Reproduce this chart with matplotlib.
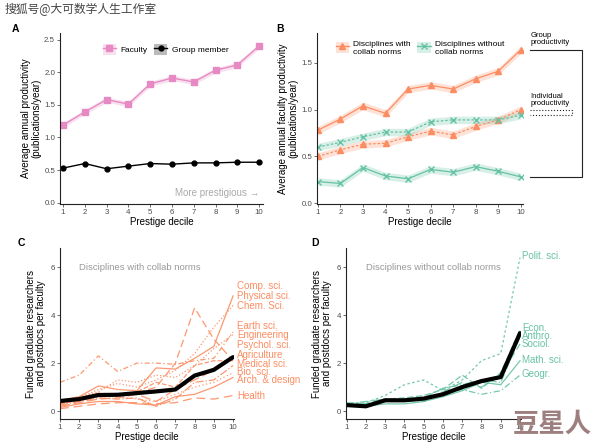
import matplotlib
matplotlib.use("Agg")
import matplotlib.pyplot as plt
from matplotlib.lines import Line2D
from matplotlib.patches import Patch
import numpy as np

plt.rcParams['font.family'] = ['Liberation Sans', 'DejaVu Sans']

deciles = list(range(1, 11))

# panel A
faculty = [1.19, 1.39, 1.58, 1.51, 1.82, 1.91, 1.85, 2.03, 2.11, 2.40]
group_member = [0.53, 0.60, 0.52, 0.56, 0.60, 0.59, 0.61, 0.61, 0.62, 0.62]

# panel B
collab_group = [0.78, 0.90, 1.04, 0.96, 1.22, 1.26, 1.22, 1.33, 1.41, 1.64]
collab_indiv = [0.50, 0.57, 0.63, 0.64, 0.71, 0.77, 0.73, 0.82, 0.89, 1.00]
nocollab_indiv = [0.60, 0.65, 0.71, 0.76, 0.76, 0.87, 0.89, 0.89, 0.89, 0.94]
nocollab_group = [0.23, 0.21, 0.38, 0.29, 0.26, 0.36, 0.33, 0.39, 0.34, 0.28]

# panel C (disciplines with collab norms)
comp_sci = [0.45, 0.60, 1.05, 0.90, 0.85, 1.80, 1.75, 2.20, 2.70, 4.80]
phys_sci = [0.30, 0.55, 0.90, 1.15, 1.00, 1.30, 1.70, 2.40, 3.50, 4.40]
chem_sci = [0.35, 0.50, 0.75, 0.70, 0.75, 1.00, 2.00, 4.30, 3.00, 2.10]
earth_sci = [1.20, 1.50, 2.30, 1.65, 2.00, 2.00, 1.95, 2.10, 2.20, 3.30]
engineering = [0.40, 0.60, 0.80, 1.30, 1.20, 1.50, 1.40, 1.90, 2.60, 3.20]
psychol_sci = [0.20, 0.35, 0.50, 0.55, 0.70, 0.40, 0.90, 1.30, 1.70, 2.20]
agriculture = [0.30, 0.45, 0.70, 0.65, 0.80, 1.20, 1.00, 1.90, 2.10, 2.10]
medical_sci = [0.25, 0.40, 0.55, 0.50, 0.55, 0.20, 0.50, 1.20, 1.30, 1.90]
bio_sci = [0.30, 0.45, 0.60, 0.60, 0.50, 0.40, 0.70, 1.00, 1.20, 1.60]
arch_design = [0.15, 0.30, 0.40, 0.40, 0.30, 0.25, 0.60, 0.70, 1.00, 1.40]
health = [0.10, 0.20, 0.30, 0.35, 0.35, 0.30, 0.35, 0.55, 0.50, 0.65]
collab_mean = [0.42, 0.50, 0.67, 0.68, 0.75, 0.82, 0.90, 1.48, 1.72, 2.25]

# panel D (disciplines without collab norms)
polit_sci = [0.30, 0.35, 0.65, 1.10, 1.30, 0.85, 1.30, 2.10, 2.40, 6.40]
econ = [0.35, 0.30, 0.50, 0.55, 0.65, 0.90, 1.50, 0.95, 1.60, 3.40]
anthro = [0.30, 0.40, 0.50, 0.50, 0.55, 0.95, 1.10, 1.30, 1.20, 3.10]
sociol = [0.20, 0.30, 0.45, 0.40, 0.50, 0.80, 1.20, 1.00, 1.50, 2.80]
math_sci = [0.20, 0.20, 0.30, 0.30, 0.40, 0.60, 0.85, 1.20, 1.10, 2.10]
geogr = [0.25, 0.30, 0.40, 0.45, 0.40, 0.70, 0.90, 0.70, 0.85, 1.50]
nocollab_mean = [0.25, 0.20, 0.45, 0.45, 0.52, 0.70, 1.00, 1.25, 1.42, 3.25]

PINK = "#e78ac3"
ORANGE = "#fc8d62"
GREEN = "#66c2a5"
TICKC = "#4d4d4d"

fig = plt.figure(figsize=(5.94, 4.42), dpi=100)
W, H = 594, 442


def make_ax(l, t, r, b):
    return fig.add_axes([l / W, 1 - b / H, (r - l) / W, (b - t) / H])


def style(ax):
    for s in ["top", "right"]:
        ax.spines[s].set_visible(False)
    for s in ["left", "bottom"]:
        ax.spines[s].set_linewidth(0.8)
        ax.spines[s].set_color("#222222")
    ax.tick_params(labelsize=5.7, labelcolor=TICKC, length=2, width=0.5,
                   color="#333333", pad=1.5)
    ax.set_xticks(deciles)
    ax.set_xlabel("Prestige decile", fontsize=7, labelpad=1)


x = np.array(deciles)

# ---------- A ----------
axA = make_ax(60, 33, 263, 204)
style(axA)
f = np.array(faculty)
axA.fill_between(x, f - 0.04, f + 0.04, color=PINK, alpha=0.25, lw=0)
axA.plot(x, faculty, color=PINK, marker="s", ms=4, lw=1)
axA.plot(x, group_member, color="black", marker="o", ms=3.5, lw=1)
axA.set_xlim(0.86, 10.18)
axA.set_ylim(-0.02, 2.6)
axA.set_yticks([0, 0.5, 1.0, 1.5, 2.0, 2.5])
axA.set_yticklabels(["0.0", "0.5", "1.0", "1.5", "2.0", "2.5"])
axA.set_ylabel("Average annual productivity\n(publications/year)", fontsize=7,
               labelpad=2, linespacing=1.0)
axA.text(10, 0.07, "More prestigious \u2192", color="#aaaaaa", fontsize=7,
         ha="right", va="bottom")
hA = [(Patch(color=PINK, alpha=0.25, lw=0), Line2D([], [], color=PINK, marker="s", ms=4, lw=1)),
      (Patch(color="#bbbbbb", lw=0), Line2D([], [], color="black", marker="o", ms=3.5, lw=1))]
axA.legend(hA, ["Faculty", "Group member"], loc="upper center",
           bbox_to_anchor=(0.52, 0.98), ncol=2, frameon=False, fontsize=6,
           handlelength=1.6, handleheight=1.6, columnspacing=0.8, handletextpad=0.5)
fig.text(12 / W, 1 - 29 / H, "A", fontsize=7.5, fontweight="bold", va="center")

# ---------- B ----------
axB = make_ax(317, 33, 523, 204)
style(axB)
for vals, col, mk, ls in [(collab_group, ORANGE, "^", "-"),
                          (collab_indiv, ORANGE, "^", "--"),
                          (nocollab_indiv, GREEN, "x", "--"),
                          (nocollab_group, GREEN, "x", "-")]:
    v = np.array(vals)
    axB.fill_between(x, v - 0.04, v + 0.04, color=col, alpha=0.25, lw=0)
    axB.plot(x, vals, color=col, marker=mk, ms=4, lw=0.9, ls=ls,
             dashes=(2, 1.5) if ls == "--" else (None, None))
axB.set_xlim(0.96, 10.1)
axB.set_ylim(-0.01, 1.82)
axB.set_yticks([0, 0.5, 1.0, 1.5])
axB.set_yticklabels(["0.0", "0.5", "1.0", "1.5"])
axB.set_ylabel("Average annual faculty productivity\n(publications/year)", fontsize=7,
               labelpad=2, linespacing=1.0)
hB = [(Patch(color=ORANGE, alpha=0.25, lw=0), Line2D([], [], color=ORANGE, marker="^", ms=4, lw=1)),
      (Patch(color=GREEN, alpha=0.25, lw=0), Line2D([], [], color=GREEN, marker="x", ms=4, lw=1))]
axB.legend(hB, ["Disciplines with\ncollab norms", "Disciplines without\ncollab norms"],
           loc="upper center", bbox_to_anchor=(0.5, 1.0), ncol=2, frameon=False,
           fontsize=6, handlelength=1.6, handleheight=1.6, columnspacing=0.8,
           handletextpad=0.5, labelspacing=0.2)
# brackets
x0, x1, x2 = 10.42, 12.73, 12.27
axB.plot([x0, x1, x1, x0], [collab_group[-1], collab_group[-1], nocollab_group[-1], nocollab_group[-1]],
         color="#222222", lw=0.8, clip_on=False)
axB.plot([x0, x2, x2, x0], [collab_indiv[-1], collab_indiv[-1], nocollab_indiv[-1], nocollab_indiv[-1]],
         color="#222222", lw=0.8, ls=":", clip_on=False)
axB.text(x0, 1.76, "Group\nproductivity", fontsize=5.5, va="center", ha="left",
         linespacing=1.0, clip_on=False)
axB.text(x0, 1.10, "Individual\nproductivity", fontsize=5.5, va="center", ha="left",
         linespacing=1.0, clip_on=False)
fig.text(276 / W, 1 - 29 / H, "B", fontsize=7.5, fontweight="bold", va="center")

# ---------- C ----------
axC = make_ax(60, 248, 234, 419)
style(axC)
c_lines = [(comp_sci, "-"), (phys_sci, ":"), (chem_sci, (0, (6, 3))),
           (earth_sci, (0, (4, 2, 1, 2))), (engineering, ":"), (psychol_sci, (0, (8, 3))),
           (agriculture, "--"), (medical_sci, "-."), (bio_sci, (0, (1, 2))),
           (arch_design, "-"), (health, (0, (7, 4)))]
for vals, ls in c_lines:
    axC.plot(x, vals, color=ORANGE, lw=0.9, ls=ls, alpha=0.9)
axC.plot(x, collab_mean, color="black", lw=3, solid_capstyle="round")
axC.set_xlim(1, 10.05)
axC.set_ylim(-0.33, 6.8)
axC.set_yticks([0, 2, 4, 6])
axC.set_ylabel("Funded graduate researchers\nand postdocs per faculty", fontsize=7,
               labelpad=3, linespacing=1.0)
c_names = ["Comp. sci.", "Physical sci.", "Chem. Sci.", "Earth sci.", "Engineering",
           "Psychol. sci.", "Agriculture", "Medical sci.", "Bio. sci.",
           "Arch. & design", "Health"]
c_pos = [5.2, 4.81, 4.39, 3.56, 3.18, 2.76, 2.34, 1.95, 1.65, 1.30, 0.63]
for name, yp in zip(c_names, c_pos):
    axC.text(10.2, yp, name, color=ORANGE, fontsize=7, va="center", ha="left",
             clip_on=False)
axC.text(2.0, 6.0, "Disciplines with collab norms", color="#999999", fontsize=6.8,
         va="center", ha="left")
fig.text(18 / W, 1 - 243 / H, "C", fontsize=7.5, fontweight="bold", va="center")

# ---------- D ----------
axD = make_ax(346, 248, 521, 419)
style(axD)
d_lines = [(polit_sci, (0, (2, 2))), (econ, (0, (5, 2))), (anthro, "-."),
           (sociol, (0, (8, 3))), (math_sci, "-"), (geogr, (0, (5, 2, 1, 2)))]
for vals, ls in d_lines:
    axD.plot(x, vals, color=GREEN, lw=0.9, ls=ls, alpha=0.9)
axD.plot(x, nocollab_mean, color="black", lw=3, solid_capstyle="round")
axD.set_xlim(0.97, 10.05)
axD.set_ylim(-0.33, 6.8)
axD.set_yticks([0, 2, 4, 6])
axD.set_ylabel("Funded graduate researchers\nand postdocs per faculty", fontsize=7,
               labelpad=3, linespacing=1.0)
d_names = ["Polit. sci.", "Econ.", "Anthro.", "Sociol.", "Math. sci.", "Geogr."]
d_pos = [6.46, 3.46, 3.11, 2.80, 2.13, 1.53]
for name, yp in zip(d_names, d_pos):
    axD.text(10.1, yp, name, color=GREEN, fontsize=7, va="center", ha="left",
             clip_on=False)
axD.text(2.0, 6.0, "Disciplines without collab norms", color="#999999", fontsize=6.8,
         va="center", ha="left")
fig.text(311 / W, 1 - 243 / H, "D", fontsize=7.5, fontweight="bold", va="center")

# watermarks
fig.text(5 / W, 1 - 10 / H, "搜狐号@大可数学人生工作室", fontsize=8.5, color="#444444",
         family=["Noto Sans CJK SC", "DejaVu Sans"], va="center", ha="left")
fig.text(552 / W, 1 - 424 / H, "豆星人", fontsize=19, color="#9e7f7f", fontweight="bold",
         family=["Noto Sans CJK SC", "DejaVu Sans"], va="center", ha="center")

fig.savefig("out.png", dpi=100, facecolor="white")
